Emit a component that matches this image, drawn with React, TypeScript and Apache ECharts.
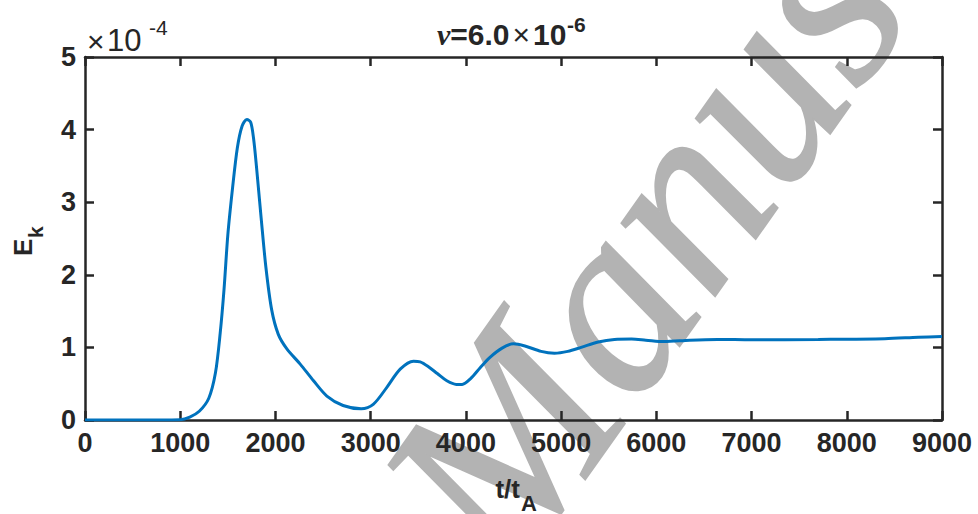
import React, { useEffect, useRef } from "react";
import * as echarts from "echarts";

// time in units of t_A
const tValues = [
  0, 500, 1000, 1100, 1200, 1300, 1370, 1420, 1460, 1500, 1550, 1600, 1650, 1700,
  1740, 1770, 1800, 1850, 1900, 1960, 2030, 2120, 2260, 2400, 2540, 2710, 2900,
  3030, 3170, 3310, 3450, 3520, 3600, 3700, 3800, 3900, 3960, 4050, 4150, 4250,
  4380, 4500, 4620, 4790, 4930, 5070, 5210, 5390, 5560, 5740, 5890, 6080, 6350,
  6640, 7000, 7700, 8400, 8750, 9000,
];
// kinetic energy E_k in units of 1e-4
const ekValues = [
  0, 0, 0.005, 0.04, 0.12, 0.3, 0.65, 1.2, 1.8, 2.55, 3.2, 3.75, 4.05, 4.14,
  4.1, 3.88, 3.5, 2.78, 2.1, 1.52, 1.18, 0.98, 0.77, 0.54, 0.33, 0.2, 0.155,
  0.22, 0.45, 0.7, 0.81, 0.8, 0.74, 0.64, 0.54, 0.49, 0.49, 0.57, 0.72, 0.86,
  0.99, 1.05, 1.02, 0.945, 0.92, 0.945, 1.0, 1.075, 1.11, 1.115, 1.1, 1.08, 1.1,
  1.11, 1.105, 1.11, 1.12, 1.14, 1.15,
];
const xTicks = [0, 9000, 1000];
const yTicks = [0, 5, 1];

const AX = "#262626";
const SANS = "Liberation Sans, Arial, sans-serif";

export default function App() {
  const ref = useRef<HTMLDivElement>(null);
  useEffect(() => {
    if (!ref.current) return;
    const chart = echarts.init(ref.current, undefined, { renderer: "svg" });
    const data = tValues.map((t, i) => [t, ekValues[i]]);
    const axisCommon = {
      axisLine: { show: true, onZero: false, lineStyle: { color: AX, width: 2.5 } },
      axisTick: { show: true, inside: true, length: 9, lineStyle: { color: AX, width: 2.5 } },
      splitLine: { show: false },
    };
    const labelStyle = {
      color: AX,
      fontSize: 27,
      fontWeight: "bold" as const,
      fontFamily: SANS,
      formatter: (v: number) => String(v),
    };
    const txt = (x: number, y: number, text: string, size: number, extra: any = {}) => ({
      type: "text",
      z: 100,
      x,
      y,
      style: {
        text,
        fontFamily: SANS,
        fontSize: size,
        fill: AX,
        textAlign: "left",
        textVerticalAlign: "bottom",
        ...extra,
      },
    });
    chart.setOption({
      animation: false,
      backgroundColor: "#ffffff",
      grid: { left: 85, top: 57, width: 857, height: 363, containLabel: false },
      xAxis: [
        {
          type: "value",
          position: "bottom",
          min: xTicks[0],
          max: xTicks[1],
          interval: xTicks[2],
          ...axisCommon,
          axisLabel: { ...labelStyle, margin: 9 },
        },
        {
          type: "value",
          position: "top",
          min: xTicks[0],
          max: xTicks[1],
          interval: xTicks[2],
          ...axisCommon,
          axisLabel: { show: false },
        },
      ],
      yAxis: [
        {
          type: "value",
          position: "left",
          min: yTicks[0],
          max: yTicks[1],
          interval: yTicks[2],
          ...axisCommon,
          axisLabel: { ...labelStyle, margin: 9 },
        },
        {
          type: "value",
          position: "right",
          min: yTicks[0],
          max: yTicks[1],
          interval: yTicks[2],
          ...axisCommon,
          axisLabel: { show: false },
        },
      ],
      series: [
        {
          type: "line",
          data,
          smooth: 0.3,
          showSymbol: false,
          symbol: "none",
          lineStyle: { color: "#0072BD", width: 3 },
          z: 3,
        },
      ],
      graphic: {
        elements: [
          {
            type: "text",
            z: -100,
            x: 440,
            y: 534,
            rotation: (54.7 * Math.PI) / 180,
            silent: true,
            style: {
              text: "Manuscript",
              fontFamily: "Liberation Serif, Times New Roman, serif",
              fontStyle: "italic",
              fontSize: 258,
              fill: "#b3b3b3",
              stroke: "#b3b3b3",
              lineWidth: 2,
              textAlign: "left",
              textVerticalAlign: "middle",
            },
          },
          // title
          {
            type: "text",
            z: 100,
            x: 437,
            y: 49,
            style: {
              text: "{nu|ν}{b|=6.0}{r|×}{b|10}",
              textAlign: "left",
              textVerticalAlign: "bottom",
              rich: {
                nu: { fontFamily: "Liberation Serif, serif", fontStyle: "italic", fontSize: 30, fill: AX, fontWeight: "bold" },
                b: { fontFamily: SANS, fontWeight: "bold", fontSize: 30, fill: AX },
                r: { fontFamily: SANS, fontWeight: "normal", fontSize: 30, fill: AX, padding: [0, 3, 0, 3] },
              },
            },
          },
          txt(567, 35, "-6", 21, { fontWeight: "bold" }),
          // exponent multiplier
          txt(87, 56, "×", 30),
          txt(107, 56, "10", 31),
          txt(149, 38, "-4", 21),
          // x label
          txt(520, 502, "t/t", 26, { fontWeight: "bold", textAlign: "right" }),
          txt(521, 514, "A", 22, { fontWeight: "bold" }),
          // y label
          {
            type: "group",
            z: 100,
            x: 36,
            y: 256,
            rotation: Math.PI / 2,
            children: [
              txt(0, 0, "E", 26, { fontWeight: "bold" }),
              txt(18, 10, "k", 21, { fontWeight: "bold" }),
            ],
          },
        ],
      },
    });
    return () => chart.dispose();
  }, []);
  return <div ref={ref} style={{ width: 978, height: 514, position: "absolute", left: 0, top: 0 }} />;
}
